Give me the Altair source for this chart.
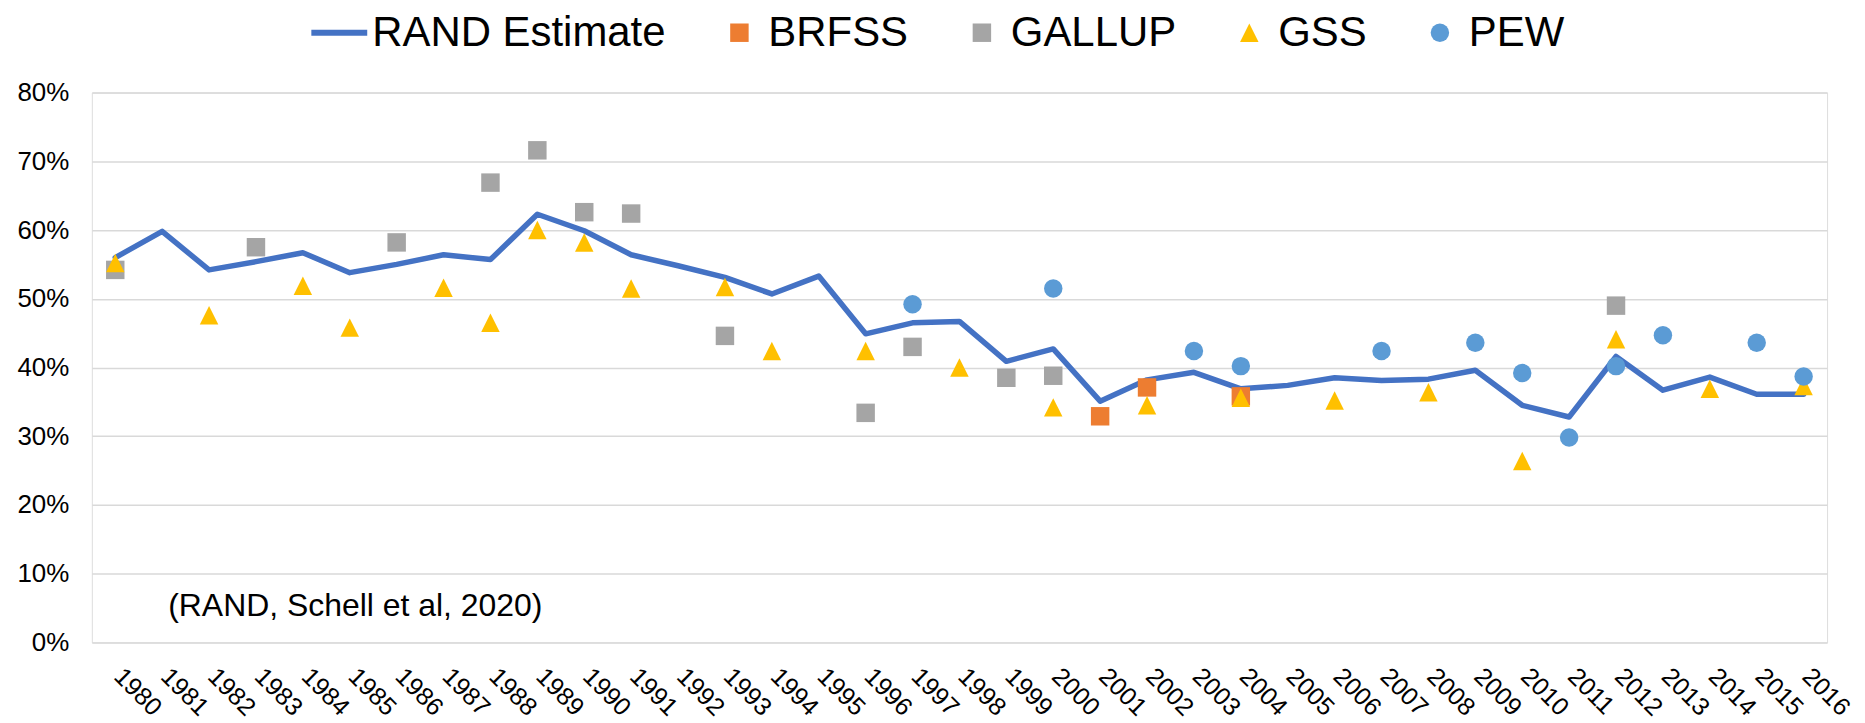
import altair as alt
import pandas as pd

# ---- data (percent) ----
years = list(range(1980, 2017))
rand_est = [56.0, 59.8, 54.2, 55.4, 56.7, 53.8, 55.0, 56.4, 55.7, 62.3, 59.9, 56.4,
            54.8, 53.1, 50.7, 53.3, 44.9, 46.5, 46.7, 40.9, 42.7, 35.1, 38.2, 39.3, 36.9,
            37.4, 38.5, 38.1, 38.3, 39.6, 34.5, 32.8, 41.6, 36.7, 38.6, 36.1, 36.1]

brfss_years = [2001, 2002, 2004]
brfss_vals = [32.9, 37.1, 35.8]

gallup_years = [1980, 1983, 1986, 1988, 1989, 1990, 1991, 1993, 1996, 1997, 1999, 2000, 2012]
gallup_vals = [54.2, 57.5, 58.2, 66.9, 71.6, 62.6, 62.4, 44.6, 33.4, 43.0, 38.5, 38.8, 49.0]

gss_years = [1980, 1982, 1984, 1985, 1987, 1988, 1989, 1990, 1991, 1993, 1994, 1996,
             1998, 2000, 2002, 2004, 2006, 2008, 2010, 2012, 2014, 2016]
gss_vals = [55.2, 47.6, 51.9, 45.8, 51.6, 46.5, 60.0, 58.2, 51.5, 51.7, 42.4, 42.4,
            40.0, 34.2, 34.5, 35.6, 35.2, 36.4, 26.4, 44.1, 36.9, 37.3]

pew_years = [1997, 2000, 2003, 2004, 2007, 2009, 2010, 2011, 2012, 2013, 2015, 2016]
pew_vals = [49.2, 51.5, 42.4, 40.2, 42.4, 43.6, 39.2, 29.8, 40.2, 44.7, 43.6, 38.7]

survey_names = ["BRFSS", "GALLUP", "GSS", "PEW"]
survey_colors = ["#ED7D31", "#A5A5A5", "#FFC000", "#5B9BD5"]
survey_shapes = ["square", "square", "M0,-1L1,1L-1,1Z", "circle"]
survey_sizes = [342, 342, 380, 400]

y_ticks = [0, 0.1, 0.2, 0.3, 0.4, 0.5, 0.6, 0.7, 0.8]
note_text = "(RAND, Schell et al, 2020)"
note_year = [1981]
note_value = [3.86]

# ---- tables ----
line_df = pd.DataFrame({"year": years, "value": [v / 100 for v in rand_est],
                        "series": "RAND Estimate"})
rows = []
for name, ys, vs in [("BRFSS", brfss_years, brfss_vals),
                     ("GALLUP", gallup_years, gallup_vals),
                     ("GSS", gss_years, gss_vals),
                     ("PEW", pew_years, pew_vals)]:
    for yr, v in zip(ys, vs):
        rows.append({"year": yr, "value": v / 100, "series": name})
pts_df = pd.DataFrame(rows)
note_df = pd.DataFrame({"year": note_year, "value": [v / 100 for v in note_value],
                        "label": [note_text]})

FONT = "Liberation Sans"

x_enc = alt.X("year:O",
              scale=alt.Scale(type="point", padding=0.5, domain=years),
              axis=alt.Axis(title=None, labelAngle=45, labelAlign="left",
                            labelBaseline="top", labelPadding=21, labelOffset=11,
                            ticks=False, domain=False, grid=False, labelOverlap=False,
                            labelFontSize=25, labelColor="#000000", labelFont=FONT))
y_enc = alt.Y("value:Q",
              scale=alt.Scale(domain=[0, 0.8], nice=False),
              axis=alt.Axis(title=None, format=".0%", values=y_ticks, grid=True,
                            gridColor="#D9D9D9", gridWidth=1.5, domain=False,
                            ticks=False, labelPadding=23, labelFontSize=26,
                            labelColor="#000000", labelFont=FONT))

line = alt.Chart(line_df).mark_line(
    strokeWidth=5.5, strokeCap="round", strokeJoin="round"
).encode(
    x=x_enc, y=y_enc,
    color=alt.Color("series:N",
                    scale=alt.Scale(domain=["RAND Estimate"], range=["#4472C4"]),
                    legend=alt.Legend(title=None, orient="none", legendX=217, legendY=-91,
                                      direction="horizontal", symbolType="stroke",
                                      symbolSize=3136, symbolStrokeWidth=6,
                                      labelFontSize=42, labelOffset=2, labelLimit=600,
                                      labelFont=FONT, labelColor="#000000"))
)

pt_legend = alt.Legend(title=None, orient="none", legendX=628, legendY=-81,
                       direction="horizontal", symbolSize=400, labelFontSize=42,
                       labelOffset=8, labelLimit=600, columnPadding=52,
                       labelFont=FONT, labelColor="#000000", symbolOpacity=1)

points = alt.Chart(pts_df).mark_point(filled=True, opacity=1, strokeWidth=0).encode(
    x=x_enc, y=y_enc,
    color=alt.Color("series:N", scale=alt.Scale(domain=survey_names, range=survey_colors),
                    legend=pt_legend),
    shape=alt.Shape("series:N", scale=alt.Scale(domain=survey_names, range=survey_shapes),
                    legend=pt_legend),
    size=alt.Size("series:N", scale=alt.Scale(domain=survey_names, range=survey_sizes),
                  legend=None),
)

note = alt.Chart(note_df).mark_text(
    align="left", baseline="alphabetic", dx=6, fontSize=32, font=FONT, color="#000000"
).encode(x=x_enc, y=y_enc, text="label:N")

chart = alt.layer(line, points, note).resolve_scale(
    color="independent", shape="independent", size="independent"
).properties(
    width=1739, height=551,
    autosize=alt.AutoSizeParams(type="none"),
    padding={"left": 84, "top": 84, "right": 30, "bottom": 78},
).configure_view(stroke=None).configure(background="white")

chart.save("out.html", embed_options={"renderer": "svg", "actions": False})
